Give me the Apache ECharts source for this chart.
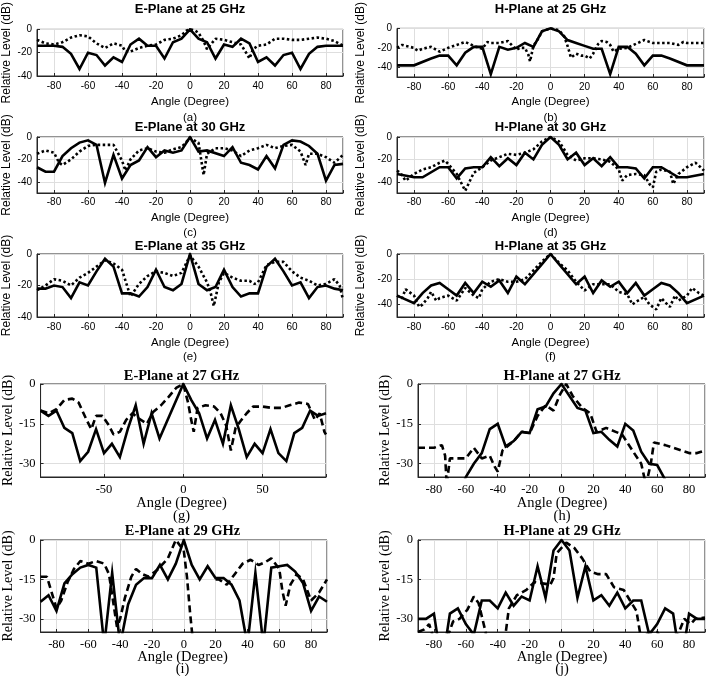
<!DOCTYPE html>
<html><head><meta charset="utf-8">
<script src="https://cdn.jsdelivr.net/npm/echarts@6/dist/echarts.min.js"></script>
<style>html,body{margin:0;padding:0;background:#fff}#c{width:708px;height:676px}</style>
</head><body><div id="c"></div>
<script>
// ---------- DATA ----------
// (a) E-Plane 25 GHz
const aSolidAng = [-90,-80,-75,-70,-65,-60,-55,-50,-45,-40,-35,-30,-25,-20,-15,-10,-5,0,5,10,15,20,25,30,35,40,45,50,55,60,65,70,75,80,90];
const aSolidVal = [-14,-14,-15,-21,-34,-20,-22,-31,-24,-28,-13,-8,-14,-14,-25,-11,-8,0,-8,-11,-25,-13,-15,-8,-12,-28,-24,-31,-22,-20,-34,-21,-15,-14,-14];
const aDotAng = [-90,-85,-80,-75,-70,-65,-60,-55,-50,-45,-40,-38,-35,-30,-25,-20,-15,-10,-5,-2,0,3,5,8,10,15,20,25,30,33,35,37,40,45,50,55,60,65,70,75,80,85,90];
const aDotVal = [-9,-12,-13,-11,-7,-5,-6,-12,-16,-12,-14,-19,-19,-16,-14,-13,-9,-8,-5,-1,0,-1,-3,-10,-17,-8,-9,-11,-13,-20,-25,-17,-14,-13,-8,-8,-9,-9,-8,-7,-8,-10,-14];
// (b) H-Plane 25 GHz
const bSolidAng = [-90,-80,-70,-65,-60,-55,-50,-45,-40,-35,-30,-25,-20,-15,-10,-5,0,5,10,15,20,25,30,35,40,45,50,55,60,65,70,80,90];
const bSolidVal = [-38,-38,-31,-28,-28,-38,-25,-19,-19,-47,-19,-22,-20,-15,-19,-3,0,-3,-12,-15,-18,-21,-21,-47,-19,-19,-26,-38,-28,-28,-31,-38,-38];
const bDotAng = [-90,-87,-85,-80,-78,-75,-70,-65,-60,-55,-50,-45,-40,-37,-35,-30,-25,-20,-18,-15,-13,-12,-10,-7,-5,0,5,8,10,12,15,18,20,23,25,28,30,33,35,37,40,45,50,55,60,70,75,78,80,90];
const bDotVal = [-20,-17,-18,-20,-23,-21,-19,-24,-20,-17,-14,-18,-21,-14,-15,-15,-13,-22,-20,-20,-27,-34,-18,-10,-3,0,-2,-8,-18,-30,-26,-28,-28,-31,-26,-16,-13,-14,-17,-24,-21,-20,-16,-12,-15,-15,-17,-14,-15,-15];
// (c) E-Plane 30 GHz
const cSolidAng = [-90,-85,-80,-75,-70,-65,-60,-55,-50,-45,-40,-35,-30,-25,-20,-15,-10,-5,0,5,10,20,25,30,35,40,45,50,55,60,65,70,75,80,85,90];
const cSolidVal = [-27,-31,-31,-17,-10,-5,-3,-7,-41,-16,-37,-25,-21,-9,-18,-12,-14,-12,0,-13,-12,-17,-9,-23,-25,-29,-17,-28,-7,-3,-4,-8,-15,-39,-25,-24];
const cDotAng = [-90,-85,-80,-77,-75,-70,-65,-60,-55,-50,-45,-40,-38,-35,-30,-25,-20,-15,-10,-5,0,5,8,10,15,20,25,30,35,40,45,50,55,60,65,68,70,75,80,85,90];
const cDotVal = [-15,-12,-14,-23,-25,-20,-13,-8,-7,-7,-7,-21,-30,-20,-12,-10,-13,-14,-11,-9,-1,-5,-34,-15,-10,-10,-12,-17,-12,-10,-7,-10,-8,-7,-13,-25,-15,-15,-18,-23,-16];
// (d) H-Plane 30 GHz
const dSolidAng = [-90,-80,-75,-65,-60,-55,-50,-45,-40,-35,-30,-25,-20,-15,-10,-5,0,5,10,15,20,25,30,35,40,45,50,55,60,65,75,80,90];
const dSolidVal = [-33,-36,-36,-27,-27,-37,-28,-27,-27,-18,-26,-19,-25,-14,-20,-7,0,-7,-20,-14,-25,-19,-26,-18,-27,-27,-28,-37,-27,-27,-36,-36,-33];
const dDotAng = [-90,-88,-85,-80,-75,-70,-65,-62,-60,-55,-50,-45,-40,-35,-30,-25,-20,-15,-10,-5,0,5,8,10,15,20,25,30,35,40,42,45,50,55,58,60,62,65,70,72,75,80,85,88,90];
const dDotVal = [-30,-32,-39,-33,-29,-27,-23,-21,-24,-33,-48,-32,-27,-21,-18,-15,-16,-14,-11,-4,0,-4,-11,-16,-21,-19,-19,-20,-22,-29,-39,-34,-33,-34,-42,-45,-31,-29,-31,-42,-33,-27,-23,-27,-30];
// (e) E-Plane 35 GHz
const eSolidAng = [-90,-85,-80,-75,-70,-65,-60,-55,-50,-45,-40,-35,-30,-25,-20,-15,-10,-5,0,5,10,15,20,25,30,35,40,45,50,55,60,65,70,75,80,85,90];
const eSolidVal = [-22,-22,-20,-21,-28,-18,-20,-11,-3,-8,-25,-25,-27,-21,-10,-21,-23,-19,0,-19,-23,-21,-10,-21,-27,-25,-25,-8,-3,-11,-20,-18,-28,-21,-20,-22,-23];
const eDotAng = [-90,-85,-80,-75,-70,-65,-60,-55,-50,-45,-40,-35,-30,-25,-20,-15,-10,-5,0,5,10,12,14,17,20,25,30,35,38,40,45,50,55,60,65,70,75,80,85,88,90];
const eDotVal = [-23,-20,-16,-17,-20,-15,-12,-8,-4,-6,-10,-27,-19,-14,-11,-12,-14,-12,-1,-8,-18,-24,-33,-18,-12,-15,-17,-17,-19,-18,-7,-5,-5,-11,-15,-17,-20,-19,-16,-20,-29];
// (f) H-Plane 35 GHz
const fSolidAng = [-90,-80,-75,-70,-65,-60,-55,-50,-45,-40,-35,-30,-25,-20,-15,-10,-5,0,5,10,15,20,25,30,35,40,45,50,55,60,65,70,75,80,90];
const fSolidVal = [-33,-39,-31,-25,-23,-28,-33,-23,-31,-22,-26,-21,-31,-18,-24,-16,-8,0,-8,-16,-24,-18,-31,-21,-26,-22,-31,-23,-33,-28,-23,-25,-31,-39,-33];
const fDotAng = [-90,-87,-85,-80,-77,-75,-72,-70,-67,-65,-60,-55,-50,-45,-42,-40,-35,-30,-25,-20,-15,-10,-5,0,5,10,15,20,25,30,35,40,45,48,50,55,58,62,65,67,70,73,75,80,83,87,90];
const fDotVal = [-33,-35,-28,-33,-42,-40,-35,-30,-37,-35,-33,-37,-27,-33,-35,-28,-22,-20,-22,-22,-20,-13,-6,0,-7,-13,-22,-29,-24,-24,-24,-30,-32,-40,-38,-34,-40,-44,-35,-38,-42,-33,-37,-33,-27,-31,-33];
// (g) E-Plane 27 GHz
const gSolidAng = [-90,-85,-80,-75,-70,-65,-60,-55,-50,-45,-40,-35,-30,-25,-20,-15,0,5,10,15,20,25,30,35,40,45,50,55,60,65,70,75,80,85,90];
const gSolidVal = [-10,-12,-10,-16.5,-18.5,-29,-25.5,-17,-26,-22.5,-27.5,-17,-8,-22.5,-11,-20.5,0,-6,-11,-20.5,-13.5,-22.5,-8,-17,-27.5,-22.5,-26,-17,-26,-29,-18.5,-16.5,-10,-12,-11];
const gDashAng = [-90,-85,-80,-75,-70,-66,-61,-58,-55,-51,-47,-44,-40,-36,-32,-28,-23,-19,-14,-9.5,-4.5,0,3,5,6.6,9,14,19.5,23.5,27,30,33,36,40,44,50,56,62,67,73,78.6,83,86,89,90];
const gDashVal = [-10,-11,-9.5,-6,-5.5,-7,-13.5,-17,-12,-12,-15.5,-19,-18,-13.5,-11,-13,-15,-10.5,-8,-5,-1.5,0,-7,-13.5,-18,-9,-8,-8.5,-11,-15.5,-25,-16.5,-14,-11,-8.5,-8.5,-9,-9,-8,-7,-7.5,-13.5,-11,-18,-19];
// (h) H-Plane 27 GHz
const hSolidAng = [-65,-60,-55,-50,-45,-40,-35,-30,-25,-20,-15,-10,-5,0,5,10,15,20,25,30,35,40,45,50,55,60,65,70];
const hSolidVal = [-42,-35,-30,-26,-17,-15,-23.5,-21.5,-18,-18.5,-9.5,-8.5,-3.5,0,-4.5,-9,-10,-18.5,-18,-21,-23.5,-15,-17.5,-25.5,-30,-30.5,-36,-42];
const hDashAng = [-90,-85,-80,-75,-73,-72,-70,-65,-60,-55,-50,-45,-42,-40,-37,-35,-30,-25,-20,-15,-10,-5,-1,3,7,13,18,22,28,34,38,45,50,53,56,58,65,70,75,80,85,90];
const hDashVal = [-24,-24,-24,-23,-27,-38,-28,-28,-28,-24,-28,-27,-31,-33,-25,-24,-21.5,-18,-18.5,-12,-8,-10,-4,0,-4.5,-9,-11,-18,-16.5,-18,-19,-25.5,-30,-38,-30,-22,-23,-24,-25,-26,-26,-25];
// (i) E-Plane 29 GHz
const iSolidAng = [-90,-85,-80,-75,-70,-65,-60,-55,-50,-45,-40,-35,-30,-25,-20,-15,-10,-5,0,5,10,15,20,25,30,35,40,45,50,55,60,65,70,75,80,85,90];
const iSolidVal = [-23.5,-21,-27,-16.5,-13,-10.5,-9.5,-10.5,-40,-12.5,-40,-24.5,-17,-14.5,-14.5,-9.5,-15,-9,0,-9.5,-15,-10,-14.5,-14.5,-17,-23,-40,-12.5,-40,-10.5,-10,-9.5,-12,-16.5,-27,-21.5,-23.5];
const iDashAng = [-90,-86,-83,-80,-77,-73,-69,-65,-60,-55,-50,-47,-44,-42,-40,-37,-33,-30,-26,-22,-16,-10,-5,0,2,4,6,7,20,22,27,32,37,42,47,51,55,60,62,64,67,71,75,80,85,90];
const iDashVal = [-14,-14,-20,-26,-23,-16,-11,-8,-9,-8,-9,-13,-25,-33,-30,-22,-14,-11,-13,-14,-11,-7,0,-4,-14,-28,-40,null,-15,-15,-17,-13,-9,-7.5,-9.5,-8.5,-7,-11,-19.5,-25,-17,-13,-15,-23,-20,-15];
// (j) H-Plane 29 GHz
const jSolidAng = [-90,-85,-80,-77,-73,-70,-65,-60,-55,-50,-45,-40,-35,-30,-25,-20,-15,-10,-5,0,5,10,15,20,25,30,35,40,45,50,55,60,65,70,73,77,80,85,90];
const jSolidVal = [-30,-30,-28,-40,-40,-28,-26,-32,-36,-23,-23,-26,-20,-25,-21.5,-23,-10,-22,-4,0,-4,-22,-10,-23,-21,-25,-20,-26,-23,-23,-36,-32,-26,-28,-40,-40,-28,-30,-30];
const jDashAng = [-90,-86,-83,-80,-75,-71,-68,-64,-59,-55,-52,-48,-46,-36,-33,-28,-22,-17,-12,-7,-5,-3,0,3,8,13,18,23,28,33,39,43,47,50,55,60,63,67,73,77,81,84,90];
const jDashVal = [-35,-34,-32,-38,-38,-36,-31,-30,-26.5,-21.5,-24,-34,-40,-40,-26,-21,-19,-16,-16.5,-17,-14.5,-5,-3,-1,-3,-7,-12,-13,-13,-18,-19,-23,-27,-38,-35,-35,-38,-38,-36,-30,-32,-30,-29.5];

const titles = ['E-Plane at 25 GHz','H-Plane at 25 GHz','E-Plane at 30 GHz','H-Plane at 30 GHz','E-Plane at 35 GHz','H-Plane at 35 GHz','E-Plane at 27 GHz','H-Plane at 27 GHz','E-Plane at 29 GHz','H-Plane at 29 GHz'];
const subLabels = ['(a)','(b)','(c)','(d)','(e)','(f)','(g)','(h)','(i)','(j)'];
const xName = 'Angle (Degree)';
const yName = 'Relative Level (dB)';

// ---------- LAYOUT ----------
const SANS = 'Liberation Sans, Arial, sans-serif';
const SERIF = 'Liberation Serif, Times New Roman, serif';
const panels = [
  {g:{left:37,top:19,width:306,height:57}, ymin:-40, yint:20, xint:20, serif:false, s:[aSolidAng,aSolidVal], o:[aDotAng,aDotVal], tT:3, xT:96, sT:112, yGap:24, xMargin:5},
  {g:{left:397,top:19,width:307,height:58}, ymin:-50, yint:20, xint:20, serif:false, s:[bSolidAng,bSolidVal], o:[bDotAng,bDotVal], tT:3, xT:96, sT:112, yGap:30, xMargin:5},
  {g:{left:37,top:137,width:306,height:56}, ymin:-50, yint:20, xint:20, serif:false, s:[cSolidAng,cSolidVal], o:[cDotAng,cDotVal], tT:121, xT:212, sT:227, yGap:24, xMargin:4},
  {g:{left:397,top:137,width:307,height:56}, ymin:-50, yint:20, xint:20, serif:false, s:[dSolidAng,dSolidVal], o:[dDotAng,dDotVal], tT:121, xT:212, sT:227, yGap:30, xMargin:4},
  {g:{left:37,top:254,width:306,height:63}, ymin:-40, yint:20, xint:20, serif:false, s:[eSolidAng,eSolidVal], o:[eDotAng,eDotVal], tT:240, xT:337, sT:351, yGap:24, xMargin:5},
  {g:{left:397,top:254,width:307,height:63}, ymin:-50, yint:20, xint:20, serif:false, s:[fSolidAng,fSolidVal], o:[fDotAng,fDotVal], tT:240, xT:337, sT:351, yGap:30, xMargin:5},
  {g:{left:37,top:384,width:289,height:93}, ymin:-35, yint:15, xint:50, serif:true, s:[gSolidAng,gSolidVal], o:[gDashAng,gDashVal], tT:369, xT:496, sT:509, yGap:23, xMargin:6},
  {g:{left:418,top:384,width:288,height:93}, ymin:-35, yint:15, xint:20, serif:true, s:[hSolidAng,hSolidVal], o:[hDashAng,hDashVal], tT:369, xT:496, sT:509, yGap:24, xMargin:6},
  {g:{left:38,top:540,width:289,height:92}, ymin:-35, yint:15, xint:20, serif:true, s:[iSolidAng,iSolidVal], o:[iDashAng,iDashVal], tT:524, xT:650, sT:662, yGap:23, xMargin:6},
  {g:{left:418,top:540,width:288,height:92}, ymin:-35, yint:15, xint:20, serif:true, s:[jSolidAng,jSolidVal], o:[jDashAng,jDashVal], tT:524, xT:650, sT:662, yGap:24, xMargin:6}
];

const grid=[], xAxis=[], yAxis=[], series=[], title=[];
const AX = '#262626';
panels.forEach((p,k)=>{
  const ff = p.serif ? SERIF : SANS;
  const tickFS = p.serif ? 12.5 : 10;
  const labFS = p.serif ? 14.5 : 11.5;
  const titFS = p.serif ? 14.5 : 13;
  const yFS = p.serif ? 14 : 12;
  grid.push(Object.assign({show:true, borderColor:AX, borderWidth:1, containLabel:false}, p.g));
  const cx = p.g.left + p.g.width/2;
  title.push({text:titles[k], left:cx, top:p.tT, textAlign:'center', padding:0,
    textStyle:{fontFamily:ff, fontSize:titFS, fontWeight:'bold', color:'#000'}});
  title.push({text:xName, left:cx, top:p.xT, textAlign:'center', padding:0,
    textStyle:{fontFamily:ff, fontSize:labFS, fontWeight:'normal', color:'#000'}});
  title.push({text:subLabels[k], left:cx, top:p.sT, textAlign:'center', padding:0,
    textStyle:{fontFamily:ff, fontSize:labFS, fontWeight:'normal', color:'#000'}});
  const xi = p.xint, yi = p.yint;
  xAxis.push({type:'value', gridIndex:k, min:-90, max:90, minInterval:xi, maxInterval:xi, splitNumber:8,
    axisLine:{show:true, onZero:false, lineStyle:{color:AX, width:1}},
    axisTick:{show:true, inside:true, length:3, lineStyle:{color:AX}},
    axisLabel:{interval:0, margin:p.xMargin, fontFamily:ff, fontSize:tickFS, color:'#000',
      formatter:v=> (Math.abs(v % xi) < 1e-9 ? String(v) : '')},
    splitLine:{show:true, lineStyle:{color:'#dedede', width:1}}});
  yAxis.push({type:'value', gridIndex:k, min:p.ymin, max:0, minInterval:yi, maxInterval:yi, splitNumber:3,
    name:yName, nameLocation:'middle', nameRotate:90, nameGap:p.yGap,
    nameTextStyle:{fontFamily:ff, fontSize:yFS, color:'#000'},
    axisLine:{show:true, onZero:false, lineStyle:{color:AX, width:1}},
    axisTick:{show:true, inside:true, length:3, lineStyle:{color:AX}},
    axisLabel:{interval:0, margin:5, fontFamily:ff, fontSize:tickFS, color:'#000',
      formatter:v=> (Math.abs(v % yi) < 1e-9 ? String(v) : '')},
    splitLine:{show:true, lineStyle:{color:'#dedede', width:1}}});
  const pair = (a,v)=>a.map((x,i)=>[x, v[i]]);
  series.push({type:'line', xAxisIndex:k, yAxisIndex:k, data:pair(p.o[0],p.o[1]), symbol:'none', clip:true,
    connectNulls:false, animation:false,
    lineStyle:{color:'#000', width:2.6, type:p.serif?[7,4]:[2.5,2.5], cap:'butt'}});
  series.push({type:'line', xAxisIndex:k, yAxisIndex:k, data:pair(p.s[0],p.s[1]), symbol:'none', clip:true,
    animation:false, lineStyle:{color:'#000', width:2.6, type:'solid', join:'miter'}});
});

const chart = echarts.init(document.getElementById('c'), null, {renderer:'canvas'});
chart.setOption({animation:false, backgroundColor:'#fff', title, grid, xAxis, yAxis, series});
</script>
</body></html>
